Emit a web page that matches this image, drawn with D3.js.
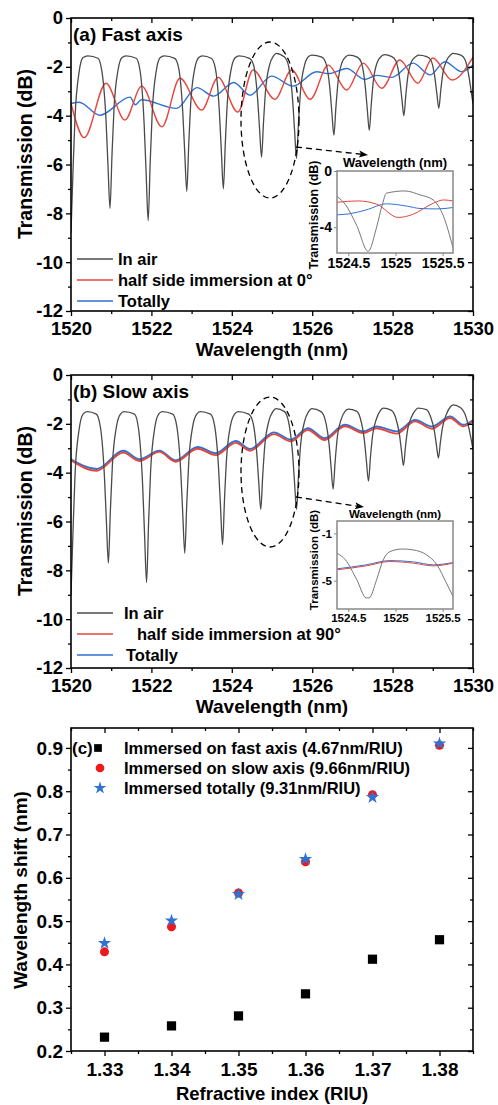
<!DOCTYPE html>
<html><head><meta charset="utf-8">
<script src="https://cdn.jsdelivr.net/npm/d3@7"></script>
<style>
body{margin:0;background:#fff}
text{font-family:"Liberation Sans",Arial,sans-serif;font-weight:bold;fill:#000}
</style></head>
<body><svg id="fig" width="498" height="1105"></svg>
<script>
// ---------------- DATA ----------------
const wlTicks = [1520,1522,1524,1526,1528,1530];
const wlMinor = [1521,1523,1525,1527,1529];
const dbTicks = [0,-2,-4,-6,-8,-10,-12];
const dbMinor = [-1,-3,-5,-7,-9,-11];

// (a) fast axis
const airA = [[1520.0,-8.8],[1520.05,-6.25],[1520.1,-4.06],[1520.2,-2.23],[1520.3,-1.62],[1520.42,-1.55],[1520.67,-1.65],[1520.77,-2.2],[1520.87,-4.15],[1520.92,-6.04],[1520.97,-7.8],
[1521.02,-5.6],[1521.07,-3.7],[1521.17,-2.13],[1521.27,-1.62],[1521.37,-1.55],[1521.62,-1.65],[1521.72,-2.18],[1521.82,-4.36],[1521.87,-6.4],[1521.92,-8.3],
[1521.97,-5.92],[1522.02,-3.88],[1522.12,-2.18],[1522.22,-1.62],[1522.32,-1.55],[1522.58,-1.65],[1522.68,-2.06],[1522.78,-3.85],[1522.83,-5.53],[1522.88,-7.1],
[1522.93,-5.14],[1522.98,-3.46],[1523.08,-2.06],[1523.18,-1.62],[1523.27,-1.55],[1523.49,-1.65],[1523.59,-2.05],[1523.69,-3.81],[1523.74,-5.46],[1523.79,-7.0],
[1523.84,-5.08],[1523.89,-3.43],[1523.99,-2.05],[1524.09,-1.62],[1524.18,-1.55],[1524.44,-1.65],[1524.54,-1.92],[1524.64,-3.26],[1524.69,-4.52],[1524.74,-5.7],
[1524.79,-4.23],[1524.84,-2.97],[1524.94,-1.92],[1525.04,-1.55],[1525.1,-1.45],[1525.31,-1.6],[1525.41,-1.95],[1525.51,-3.29],[1525.56,-4.56],[1525.61,-5.75],
[1525.66,-4.26],[1525.71,-2.99],[1525.81,-1.93],[1525.91,-1.58],[1525.99,-1.52],[1526.24,-1.6],[1526.34,-1.85],[1526.44,-2.89],[1526.49,-3.88],[1526.54,-4.8],
[1526.59,-3.65],[1526.64,-2.66],[1526.74,-1.83],[1526.84,-1.58],[1526.92,-1.52],[1527.12,-1.6],[1527.22,-1.81],[1527.32,-2.8],[1527.37,-3.73],[1527.42,-4.6],
[1527.47,-3.52],[1527.52,-2.59],[1527.62,-1.81],[1527.72,-1.57],[1527.79,-1.5],[1527.98,-1.58],[1528.08,-1.75],[1528.18,-2.55],[1528.23,-3.3],[1528.28,-4.0],
[1528.33,-3.13],[1528.38,-2.38],[1528.48,-1.75],[1528.58,-1.58],[1528.64,-1.52],[1528.85,-1.58],[1528.95,-1.72],[1529.05,-2.42],[1529.1,-3.08],[1529.15,-3.7],
[1529.2,-2.93],[1529.25,-2.27],[1529.35,-1.72],[1529.45,-1.5],[1529.5,-1.45],[1529.7,-1.52],[1529.8,-1.7],[1529.9,-2.4],[1529.95,-2.95],[1530.0,-3.5]];
const halfA = [[1520.0,-3.5],[1520.33,-4.9],[1520.87,-2.67],[1521.34,-4.18],[1521.76,-2.79],[1522.26,-4.46],[1522.71,-2.47],[1523.25,-3.77],[1523.66,-2.43],[1524.15,-3.85],[1524.53,-2.13],[1525.07,-3.33],[1525.49,-2.13],[1525.95,-3.33],[1526.4,-1.93],[1526.86,-2.95],[1527.27,-1.85],[1527.73,-2.88],[1528.18,-1.72],[1528.63,-2.67],[1529.0,-1.64],[1529.48,-2.54],[1530.0,-1.6]];
const totA = [[1520.0,-3.5],[1520.2,-3.45],[1520.72,-3.98],[1521.47,-3.24],[1521.6,-3.55],[1521.75,-3.35],[1522.63,-3.7],[1523.13,-2.85],[1523.55,-3.2],[1524.05,-2.64],[1524.45,-3.16],[1524.99,-2.38],[1525.52,-2.79],[1526.11,-2.2],[1526.4,-2.28],[1526.86,-2.07],[1527.31,-2.52],[1527.6,-2.35],[1527.98,-2.43],[1528.51,-1.85],[1528.93,-2.33],[1529.3,-1.79],[1529.72,-2.2],[1530.0,-1.93]];

// (b) slow axis
const airB = [[1520.0,-9.0],[1520.05,-6.4],[1520.1,-4.1],[1520.2,-2.25],[1520.3,-1.6],[1520.4,-1.5],[1520.63,-1.6],[1520.73,-2.12],[1520.83,-4.1],[1520.88,-5.96],[1520.93,-7.7],
[1520.98,-5.53],[1521.03,-3.67],[1521.13,-2.12],[1521.23,-1.6],[1521.32,-1.5],[1521.58,-1.6],[1521.68,-2.2],[1521.78,-4.44],[1521.83,-6.54],[1521.88,-8.5],
[1521.93,-6.05],[1521.98,-3.95],[1522.08,-2.2],[1522.18,-1.6],[1522.27,-1.5],[1522.53,-1.6],[1522.63,-2.08],[1522.73,-3.94],[1522.78,-5.68],[1522.83,-7.3],
[1522.88,-5.27],[1522.93,-3.53],[1523.03,-2.08],[1523.13,-1.6],[1523.21,-1.5],[1523.47,-1.6],[1523.57,-2.05],[1523.67,-3.79],[1523.72,-5.42],[1523.77,-6.95],
[1523.82,-5.04],[1523.87,-3.41],[1523.97,-2.05],[1524.07,-1.6],[1524.16,-1.5],[1524.42,-1.6],[1524.52,-1.9],[1524.62,-3.18],[1524.67,-4.38],[1524.72,-5.5],
[1524.77,-4.1],[1524.82,-2.9],[1524.92,-1.9],[1525.02,-1.5],[1525.1,-1.38],[1525.31,-1.5],[1525.41,-1.9],[1525.51,-3.18],[1525.56,-4.38],[1525.61,-5.5],
[1525.66,-4.1],[1525.71,-2.9],[1525.81,-1.9],[1525.91,-1.5],[1525.99,-1.38],[1526.22,-1.5],[1526.32,-1.82],[1526.42,-2.83],[1526.47,-3.78],[1526.52,-4.67],
[1526.57,-3.56],[1526.62,-2.61],[1526.72,-1.82],[1526.82,-1.48],[1526.9,-1.4],[1527.1,-1.48],[1527.2,-1.79],[1527.3,-2.7],[1527.35,-3.55],[1527.4,-4.35],
[1527.45,-3.35],[1527.5,-2.5],[1527.6,-1.79],[1527.7,-1.45],[1527.77,-1.36],[1527.97,-1.45],[1528.07,-1.72],[1528.17,-2.43],[1528.22,-3.09],[1528.27,-3.71],
[1528.32,-2.94],[1528.37,-2.27],[1528.47,-1.72],[1528.57,-1.44],[1528.63,-1.36],[1528.84,-1.42],[1528.94,-1.69],[1529.04,-2.3],[1529.09,-2.87],[1529.14,-3.4],
[1529.19,-2.74],[1529.24,-2.17],[1529.34,-1.6],[1529.44,-1.3],[1529.5,-1.22],[1529.7,-1.35],[1529.8,-1.6],[1529.9,-2.2],[1529.95,-2.6],[1530.0,-3.06]];
const halfB = [[1520.0,-3.5],[1520.64,-3.92],[1521.3,-3.18],[1521.7,-3.52],[1522.2,-3.15],[1522.6,-3.55],[1523.15,-3.02],[1523.6,-3.28],[1524.1,-2.78],[1524.45,-3.1],[1525.05,-2.42],[1525.47,-2.72],[1525.89,-2.25],[1526.31,-2.66],[1526.81,-2.1],[1527.27,-2.38],[1527.6,-2.18],[1528.1,-2.4],[1528.56,-1.9],[1528.98,-2.2],[1529.43,-1.76],[1529.76,-2.1],[1530.0,-1.9]];
const totB = [[1520.0,-3.45],[1520.64,-3.85],[1521.3,-3.1],[1521.7,-3.45],[1522.2,-3.1],[1522.6,-3.5],[1523.15,-2.95],[1523.6,-3.2],[1524.1,-2.7],[1524.45,-3.03],[1525.05,-2.35],[1525.47,-2.65],[1525.89,-2.18],[1526.31,-2.59],[1526.81,-2.04],[1527.27,-2.31],[1527.6,-2.11],[1528.1,-2.31],[1528.56,-1.84],[1528.98,-2.11],[1529.43,-1.7],[1529.76,-2.04],[1530.0,-1.84]];

// insets
const insetTicks = [1524.5,1525,1525.5];
const insetAy = [0,-4];
const insetBy = [-1,-5];
const inAair = [[1524.38,-1.82],[1524.47,-2.4],[1524.59,-3.9],[1524.71,-5.72],[1524.8,-4.0],[1524.86,-2.4],[1524.905,-1.58],[1525.1,-1.42],[1525.26,-1.7],[1525.4,-2.06],[1525.51,-3.24],[1525.61,-5.48]];
const inAhalf = [[1524.38,-2.23],[1524.6,-2.13],[1524.8,-2.36],[1525.03,-3.31],[1525.18,-3.1],[1525.4,-2.3],[1525.51,-2.06],[1525.61,-2.13]];
const inAtot = [[1524.38,-3.12],[1524.51,-3.05],[1524.69,-2.77],[1524.905,-2.34],[1525.12,-2.5],[1525.26,-2.67],[1525.44,-2.7],[1525.61,-2.6]];
const inBair = [[1524.38,-2.68],[1524.47,-3.24],[1524.59,-4.92],[1524.69,-6.46],[1524.72,-6.46],[1524.8,-4.92],[1524.87,-3.24],[1524.94,-2.55],[1525.07,-2.32],[1525.19,-2.4],[1525.33,-2.82],[1525.44,-3.66],[1525.54,-5.2],[1525.61,-6.33]];
const inBhalf = [[1524.38,-4.08],[1524.69,-3.75],[1524.94,-3.38],[1525.19,-3.52],[1525.4,-3.75],[1525.61,-3.52]];
const inBtot = [[1524.38,-4.0],[1524.69,-3.66],[1524.94,-3.3],[1525.19,-3.41],[1525.4,-3.66],[1525.61,-3.47]];

// (c)
const riu = [1.33,1.34,1.35,1.36,1.37,1.38];
const fastShift = [0.232,0.258,0.281,0.332,0.412,0.457];
const slowShift = [0.429,0.487,0.565,0.637,0.792,0.906];
const totalShift = [0.449,0.501,0.562,0.643,0.786,0.910];
const riuTicks = [1.33,1.34,1.35,1.36,1.37,1.38];
const riuMinor = [1.325,1.335,1.345,1.355,1.365,1.375,1.385];
const shiftTicks = [0.2,0.3,0.4,0.5,0.6,0.7,0.8,0.9];
const shiftMinor = [0.25,0.35,0.45,0.55,0.65,0.75,0.85];

const legendLabels = ["In air","half side immersion at 0°","Totally"];
const legendLabelsB = ["In air","half side immersion at 90°","Totally"];
const legendC = ["Immersed on fast axis (4.67nm/RIU)","Immersed on slow axis (9.66nm/RIU)","Immersed totally (9.31nm/RIU)"];

// ---------------- DRAW ----------------
const C_AIR="#4a4a4a", C_RED="#e8453c", C_BLUE="#2f72d4";
const svg = d3.select("#fig");
const fmt = d => String(d);

function frame(g, x, y, xt, xm, yt, ym, opt){
  const [x0,x1]=x.range(), [y1,y0]=y.range();
  const col = opt.col||"#000", sw = opt.sw||1.6;
  const ax = g.append("g");
  ax.append("g").attr("transform",`translate(0,${y1})`)
    .call(d3.axisBottom(x).tickValues(xt).tickSize(opt.tl).tickPadding(opt.xpad).tickFormat(opt.xf||fmt));
  ax.append("g").attr("transform",`translate(0,${y1})`).call(d3.axisBottom(x).tickValues(xm).tickSize(opt.tl*0.6).tickFormat(""));
  ax.append("g").attr("transform",`translate(${x0},0)`)
    .call(d3.axisLeft(y).tickValues(yt).tickSize(opt.tl).tickPadding(opt.ypad).tickFormat(opt.yf||fmt));
  ax.append("g").attr("transform",`translate(${x0},0)`).call(d3.axisLeft(y).tickValues(ym).tickSize(opt.tl*0.6).tickFormat(""));
  ax.append("g").attr("transform",`translate(0,${y0})`).call(d3.axisBottom(x).tickValues(xt).tickSize(opt.tl).tickFormat(""));
  ax.append("g").attr("transform",`translate(0,${y0})`).call(d3.axisBottom(x).tickValues(xm).tickSize(opt.tl*0.6).tickFormat(""));
  ax.append("g").attr("transform",`translate(${x1},0)`).call(d3.axisLeft(y).tickValues(yt).tickSize(opt.tl).tickFormat(""));
  ax.append("g").attr("transform",`translate(${x1},0)`).call(d3.axisLeft(y).tickValues(ym).tickSize(opt.tl*0.6).tickFormat(""));
  ax.selectAll(".domain").remove();
  ax.selectAll("line").attr("stroke",col).attr("stroke-width",opt.tw||1.3);
  ax.selectAll("text").attr("font-size",opt.fs).attr("font-family",null).attr("fill","#000");
  g.append("rect").attr("x",x0).attr("y",y0).attr("width",x1-x0).attr("height",y1-y0)
    .attr("fill","none").attr("stroke",col).attr("stroke-width",sw);
}

function lines(g, x, y, sets, clipId){
  const [x0,x1]=x.range(), [y1,y0]=y.range();
  g.append("clipPath").attr("id",clipId).append("rect").attr("x",x0).attr("y",y0).attr("width",x1-x0).attr("height",y1-y0);
  const gg = g.append("g").attr("clip-path",`url(#${clipId})`);
  const ln = d3.line().x(d=>x(d[0])).y(d=>y(d[1])).curve(d3.curveMonotoneX);
  sets.forEach(([data,col,w])=>{
    gg.append("path").attr("d",ln(data)).attr("fill","none").attr("stroke",col).attr("stroke-width",w).attr("stroke-linejoin","round");
  });
}

function legend(g, x0, x1, tx, ys, labels, cols, fs){
  labels.forEach((lab,i)=>{
    g.append("line").attr("x1",x0).attr("x2",x1).attr("y1",ys[i]).attr("y2",ys[i]).attr("stroke",cols[i]).attr("stroke-width",1.5);
    g.append("text").attr("x",tx[i]).attr("y",ys[i]+6).attr("font-size",fs).text(lab);
  });
}

function dashedCallout(g, cx, cy, rx, ry, ax0, ay0, ax1, ay1){
  g.append("ellipse").attr("cx",cx).attr("cy",cy).attr("rx",rx).attr("ry",ry)
    .attr("fill","none").attr("stroke","#000").attr("stroke-width",1.3).attr("stroke-dasharray","6,4");
  g.append("line").attr("x1",ax0).attr("y1",ay0).attr("x2",ax1-6).attr("y2",ay1-0.7)
    .attr("stroke","#000").attr("stroke-width",1.3).attr("stroke-dasharray","6,4");
  const ang = Math.atan2(ay1-ay0, ax1-ax0)*180/Math.PI;
  g.append("path").attr("d","M0,0 L-9,-3.5 L-7,0 L-9,3.5 Z").attr("fill","#000")
    .attr("transform",`translate(${ax1},${ay1}) rotate(${ang})`);
}

function spectrumPanel(top, air, half, tot, title, titleY, legLabels, legYs, legTx, ellipse, arrow, cw){
  const g = svg.append("g");
  const x = d3.scaleLinear([1520,1530],[71,473]);
  const y = d3.scaleLinear([-12,0],[top+293,top]);
  lines(g, x, y, [[tot,C_BLUE,cw],[half,C_RED,cw],[air,C_AIR,1.3]], "clip"+top);
  frame(g, x, y, wlTicks, wlMinor, dbTicks, dbMinor, {tl:5, xpad:6, ypad:3, fs:18.5});
  g.append("text").attr("x",272).attr("y",top+338).attr("text-anchor","middle").attr("font-size",19).text("Wavelength (nm)");
  g.append("text").attr("transform",`translate(32,${top+136}) rotate(-90)`).attr("text-anchor","middle").attr("font-size",19.5).text("Transmission (dB)");
  g.append("text").attr("x",73).attr("y",titleY).attr("font-size",19).text(title);
  legend(g, 77, 113, legTx, legYs, legLabels, [C_AIR,C_RED,C_BLUE], 16.5);
  dashedCallout(g, ...ellipse, ...arrow);
}

spectrumPanel(18, airA, halfA, totA, "(a) Fast axis", 41, legendLabels, [259,280,301], [118,118,118], [270,120,29,78], [296,147,368,155], 1.4);
spectrumPanel(375, airB, halfB, totB, "(b) Slow axis", 398, legendLabelsB, [613,634,655], [124,137,126], [270,472,29,75], [296,497,364,507], 1.9);

function inset(top, bottom, ydom, yticks, air, half, tot, fs, titleY, yTitleY, yTitleFs, titleFs){
  const g = svg.append("g");
  const x = d3.scaleLinear([1524.38,1525.61],[337,453]);
  const y = d3.scaleLinear(ydom,[bottom,top]);
  g.append("rect").attr("x",337).attr("y",top).attr("width",116).attr("height",bottom-top).attr("fill","#fff");
  lines(g, x, y, [[tot,C_BLUE,1],[half,C_RED,1],[air,"#777",1]], "clipin"+top);
  const ax = g.append("g");
  ax.append("g").attr("transform",`translate(0,${bottom})`).call(d3.axisBottom(x).tickValues(insetTicks).tickSize(3).tickPadding(2).tickFormat(d=>String(d)));
  ax.append("g").attr("transform",`translate(337,0)`).call(d3.axisLeft(y).tickValues(yticks).tickSize(3).tickPadding(2).tickFormat(d=>String(d)));
  ax.selectAll(".domain").remove();
  ax.selectAll("line").attr("stroke","#888");
  ax.selectAll("text").attr("font-size",fs).attr("font-family",null);
  g.append("rect").attr("x",337).attr("y",top).attr("width",116).attr("height",bottom-top).attr("fill","none").attr("stroke","#888").attr("stroke-width",1.5);
  g.append("text").attr("x",395).attr("y",titleY).attr("text-anchor","middle").attr("font-size",titleFs).text("Wavelength (nm)");
  g.append("text").attr("transform",`translate(318,${yTitleY}) rotate(-90)`).attr("text-anchor","middle").attr("font-size",yTitleFs).text("Transmission (dB)");
}
inset(171, 253, [-5.84,0], insetAy, inAair, inAhalf, inAtot, 14, 167, 215, 12.5, 13);
inset(521, 609, [-7.4,0.05], insetBy, inBair, inBhalf, inBtot, 11.5, 518, 560, 11.5, 11.5);

// (c)
(function(){
  const g = svg.append("g");
  const x = d3.scaleLinear([1.325,1.385],[71,473]);
  const y = d3.scaleLinear([0.2,0.946],[1051,728]);
  frame(g, x, y, riuTicks, riuMinor, shiftTicks, shiftMinor, {tl:5, xpad:7, ypad:3, fs:19, xf:d3.format(".2f"), yf:d3.format(".1f")});
  g.append("text").attr("x",272).attr("y",1100).attr("text-anchor","middle").attr("font-size",18.5).text("Refractive index (RIU)");
  g.append("text").attr("transform",`translate(27,890) rotate(-90)`).attr("text-anchor","middle").attr("font-size",19).text("Wavelength shift (nm)");
  g.append("text").attr("x",72).attr("y",754).attr("font-size",17).text("(c)");
  const sq = d3.symbol(d3.symbolSquare, 85), ci = d3.symbol(d3.symbolCircle, 64), st = d3.symbol(d3.symbolStar, 55);
  g.selectAll(".f").data(riu).join("path").attr("d",sq).attr("transform",(d,i)=>`translate(${x(d)},${y(fastShift[i])})`).attr("fill","#000");
  g.selectAll(".s").data(riu).join("path").attr("d",ci).attr("transform",(d,i)=>`translate(${x(d)},${y(slowShift[i])})`).attr("fill","#f01818");
  g.selectAll(".t").data(riu).join("path").attr("d",st).attr("transform",(d,i)=>`translate(${x(d)},${y(totalShift[i])})`).attr("fill",C_BLUE);
  const ly=[748,768,788];
  g.append("path").attr("d",d3.symbol(d3.symbolSquare,60)).attr("transform",`translate(98,${ly[0]})`).attr("fill","#000");
  g.append("path").attr("d",d3.symbol(d3.symbolCircle,60)).attr("transform",`translate(100,${ly[1]})`).attr("fill","#f01818");
  g.append("path").attr("d",d3.symbol(d3.symbolStar,50)).attr("transform",`translate(100,${ly[2]})`).attr("fill",C_BLUE);
  legendC.forEach((t,i)=>g.append("text").attr("x",124).attr("y",ly[i]+6).attr("font-size",16.5).text(t));
})();
</script></body></html>
